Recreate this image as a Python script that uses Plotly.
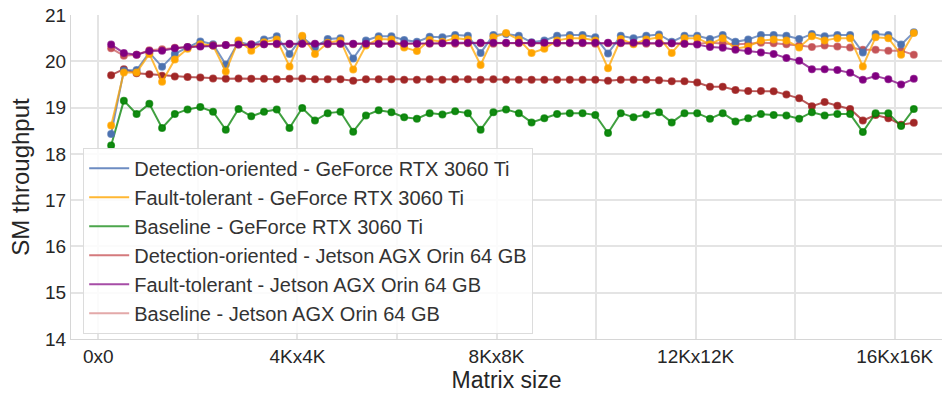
import plotly.graph_objects as go

# Matrix sizes (N for an N x N matrix)
sizes = [256 * k for k in range(1, 65)]

tick_vals = [0, 2000, 4000, 6000, 8000, 10000, 12000, 14000, 16000]
tick_text = ["0x0", "", "4Kx4K", "", "8Kx8K", "", "12Kx12K", "", "16Kx16K"]

det_geforce = [18.43, 19.80, 19.81, 20.19, 19.88, 20.16, 20.30, 20.43, 20.37, 19.93, 20.42, 20.35, 20.47,
               20.54, 20.16, 20.52, 20.30, 20.48, 20.50, 20.06, 20.45, 20.54, 20.54, 20.46, 20.42, 20.53,
               20.52, 20.57, 20.55, 20.18, 20.57, 20.59, 20.55, 20.41, 20.45, 20.55, 20.57, 20.57, 20.52,
               20.17, 20.55, 20.50, 20.55, 20.58, 20.42, 20.55, 20.55, 20.48, 20.57, 20.42, 20.47, 20.57,
               20.57, 20.55, 20.48, 20.59, 20.54, 20.57, 20.57, 20.19, 20.59, 20.57, 20.36, 20.63]

ft_geforce = [18.61, 19.76, 19.76, 20.16, 19.56, 20.04, 20.27, 20.37, 20.34, 19.78, 20.45, 20.23, 20.41,
              20.47, 19.89, 20.55, 20.16, 20.40, 20.45, 19.82, 20.34, 20.48, 20.47, 20.30, 20.22, 20.46,
              20.42, 20.50, 20.47, 19.92, 20.52, 20.61, 20.47, 20.18, 20.27, 20.45, 20.50, 20.50, 20.45,
              19.85, 20.48, 20.37, 20.47, 20.52, 20.18, 20.50, 20.50, 20.37, 20.50, 20.27, 20.32, 20.45,
              20.47, 20.45, 20.30, 20.54, 20.45, 20.50, 20.50, 19.89, 20.52, 20.50, 20.14, 20.61]

base_geforce = [18.18, 19.15, 18.86, 19.08, 18.56, 18.86, 18.96, 19.01, 18.91, 18.52, 18.97, 18.81, 18.91,
                18.96, 18.56, 18.99, 18.72, 18.88, 18.91, 18.48, 18.83, 18.94, 18.90, 18.79, 18.76, 18.88,
                18.85, 18.92, 18.88, 18.52, 18.90, 18.96, 18.88, 18.68, 18.77, 18.86, 18.88, 18.88, 18.84,
                18.45, 18.88, 18.79, 18.85, 18.90, 18.68, 18.88, 18.88, 18.76, 18.88, 18.70, 18.77, 18.86,
                18.84, 18.83, 18.76, 18.90, 18.83, 18.86, 18.86, 18.47, 18.88, 18.88, 18.60, 18.97]

det_jetson = [20.28, 20.12, 20.14, 20.24, 20.26, 20.29, 20.31, 20.33, 20.34, 20.35, 20.36, 20.37, 20.37,
              20.37, 20.37, 20.38, 20.37, 20.37, 20.38, 20.37, 20.37, 20.38, 20.38, 20.37, 20.38, 20.38,
              20.39, 20.38, 20.39, 20.39, 20.38, 20.39, 20.39, 20.39, 20.38, 20.39, 20.39, 20.39, 20.38,
              20.39, 20.39, 20.39, 20.38, 20.39, 20.39, 20.38, 20.38, 20.40, 20.39, 20.37, 20.38, 20.40,
              20.39, 20.37, 20.34, 20.31, 20.34, 20.32, 20.30, 20.25, 20.25, 20.23, 20.23, 20.14]

ft_jetson = [20.36, 20.18, 20.14, 20.22, 20.23, 20.28, 20.31, 20.32, 20.34, 20.35, 20.36, 20.36, 20.37,
             20.38, 20.38, 20.38, 20.38, 20.38, 20.38, 20.38, 20.38, 20.38, 20.38, 20.38, 20.38, 20.39,
             20.39, 20.40, 20.40, 20.40, 20.40, 20.40, 20.40, 20.40, 20.40, 20.40, 20.40, 20.40, 20.40,
             20.40, 20.40, 20.40, 20.40, 20.39, 20.39, 20.38, 20.36, 20.31, 20.29, 20.25, 20.22, 20.19,
             20.16, 20.07, 20.01, 19.83, 19.83, 19.81, 19.75, 19.60, 19.68, 19.61, 19.50, 19.62]

base_jetson = [19.70, 19.83, 19.74, 19.72, 19.69, 19.67, 19.66, 19.65, 19.63, 19.62, 19.63, 19.62, 19.62,
               19.61, 19.62, 19.63, 19.61, 19.61, 19.61, 19.58, 19.61, 19.61, 19.61, 19.60, 19.60, 19.61,
               19.60, 19.61, 19.61, 19.60, 19.61, 19.60, 19.60, 19.60, 19.60, 19.60, 19.60, 19.60, 19.60,
               19.58, 19.60, 19.60, 19.60, 19.59, 19.57, 19.57, 19.54, 19.45, 19.45, 19.38, 19.36, 19.36,
               19.35, 19.28, 19.20, 19.03, 19.12, 19.04, 18.97, 18.72, 18.84, 18.77, 18.63, 18.67]

series_names = ["Detection-oriented - GeForce RTX 3060 Ti",
                "Fault-tolerant - GeForce RTX 3060 Ti",
                "Baseline - GeForce RTX 3060 Ti",
                "Detection-oriented - Jetson AGX Orin 64 GB",
                "Fault-tolerant - Jetson AGX Orin 64 GB",
                "Baseline - Jetson AGX Orin 64 GB"]
series_values = [det_geforce, ft_geforce, base_geforce, det_jetson, ft_jetson, base_jetson]
line_colors = ["rgba(76,114,176,0.75)", "rgba(255,165,0,0.75)", "rgba(0,128,0,0.75)",
               "rgba(196,78,82,0.7)", "rgba(128,0,128,0.75)", "rgba(160,32,32,0.75)"]
marker_colors = ["#4C72B0", "#FFA500", "#118a11", "#c45558", "#800080", "#a02828"]
legend_colors = ["#6d8cc2", "#ffb733", "#4ca64c", "#d47a7d", "#a64da6", "#e3a9a9"]
# draw order: Jetson detection below others so purple shows on top
draw_order = [3, 5, 2, 0, 1, 4]

fig = go.Figure()
for i in draw_order:
    fig.add_trace(go.Scatter(
        x=sizes, y=series_values[i], mode="lines+markers", showlegend=False,
        line=dict(color=line_colors[i], width=2),
        marker=dict(color=marker_colors[i], size=6.5,
                    line=dict(color=line_colors[i], width=1.5)),
        hoverinfo="skip"))
for i in range(6):
    fig.add_trace(go.Scatter(
        x=[None], y=[None], mode="lines", name=series_names[i],
        line=dict(color=legend_colors[i], width=2)))

font_family = "Arial, Liberation Sans, sans-serif"
fig.update_layout(
    width=942, height=394,
    margin=dict(l=71, r=0, t=15, b=55),
    plot_bgcolor="white", paper_bgcolor="white",
    font=dict(family=font_family, color="#262626"),
    legend=dict(x=0.014, y=0.59, xanchor="left", yanchor="top",
                bgcolor="rgba(255,255,255,0.85)", bordercolor="#dcdcdc", borderwidth=1,
                font=dict(size=20, color="#333333", family=font_family),
                tracegroupgap=0, itemwidth=40),
    xaxis=dict(range=[-550, 16950], tickvals=tick_vals, ticktext=tick_text,
               showgrid=True, gridcolor="#e4e4e4", gridwidth=1.5,
               zeroline=False, showline=True, linecolor="#d6d6d6", linewidth=1,
               tickfont=dict(size=19), ticks="",
               title=dict(text="Matrix size", font=dict(size=23), standoff=2)),
    yaxis=dict(range=[14, 21], dtick=1, showgrid=True, gridcolor="#e4e4e4", gridwidth=1.5,
               zeroline=False, showline=True, linecolor="#d6d6d6", linewidth=1, mirror=True,
               tickfont=dict(size=19), ticks="",
               title=dict(text="SM throughput", font=dict(size=24), standoff=8)),
)

fig.write_html("out.html")
